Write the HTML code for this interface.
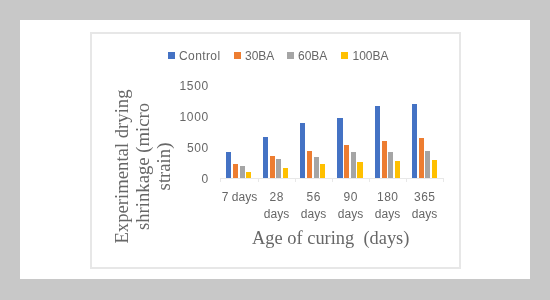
<!DOCTYPE html>
<html><head><meta charset="utf-8">
<style>
html,body{margin:0;padding:0;}
body{width:550px;height:300px;background:#c8c8c8;position:relative;overflow:hidden;font-family:"Liberation Sans",sans-serif;}
.panel{position:absolute;left:20px;top:20px;width:510px;height:259px;background:#fff;}
.frame{position:absolute;left:90px;top:32px;width:367px;height:233px;border:2px solid #e7e7e7;}
.wrap{position:absolute;left:0;top:0;width:550px;height:300px;filter:blur(0.4px);}
.abs{position:absolute;white-space:nowrap;}
.sq{position:absolute;top:52px;width:7px;height:7px;}
.lg{position:absolute;top:48.5px;font-size:12px;line-height:14px;color:#676767;}
.yl{position:absolute;right:341.3px;font-size:12px;line-height:14px;color:#676767;text-align:right;letter-spacing:0.6px;}
.bar{position:absolute;width:5.2px;}
.b{background:#4472c4;} .o{background:#ed7d31;} .g{background:#a5a5a5;} .y{background:#ffc000;}
.xl{position:absolute;font-size:12px;line-height:16.8px;color:#676767;text-align:center;width:40px;}
.xt{position:absolute;left:252.1px;top:227.6px;font-family:"Liberation Serif",serif;font-size:18.4px;line-height:20px;color:#676767;white-space:pre;}
.yt{position:absolute;font-family:"Liberation Serif",serif;font-size:18.7px;line-height:21px;color:#676767;text-align:center;width:200px;height:63px;left:42.4px;top:135.1px;transform:rotate(-90deg);}
.axis{position:absolute;left:220px;top:178px;width:223px;height:1px;background:#e8e8e8;}
.tick{position:absolute;top:178px;width:1px;height:4px;background:#e8e8e8;}
</style></head>
<body>
<div class="wrap">
<div class="panel"></div>
<div class="frame"></div>

<div class="sq b" style="left:168px"></div><div class="lg" style="left:179px;letter-spacing:0.4px">Control</div>
<div class="sq o" style="left:234px"></div><div class="lg" style="left:245px">30BA</div>
<div class="sq g" style="left:287px"></div><div class="lg" style="left:298px">60BA</div>
<div class="sq y" style="left:340.5px;width:7.5px"></div><div class="lg" style="left:352.5px">100BA</div>

<div class="yl" style="top:79px">1500</div>
<div class="yl" style="top:110px">1000</div>
<div class="yl" style="top:141px">500</div>
<div class="yl" style="top:172px">0</div>

<div class="axis"></div>
<div class="tick" style="left:220px"></div>
<div class="tick" style="left:258px"></div>
<div class="tick" style="left:295px"></div>
<div class="tick" style="left:332px"></div>
<div class="tick" style="left:369px"></div>
<div class="tick" style="left:406px"></div>
<div class="tick" style="left:443px"></div>
<div class="bar b" style="left:226.2px;top:152px;height:26.0px"></div>
<div class="bar o" style="left:232.9px;top:164.1px;height:13.9px"></div>
<div class="bar g" style="left:239.5px;top:166.4px;height:11.6px"></div>
<div class="bar y" style="left:246.2px;top:171.6px;height:6.4px"></div>
<div class="bar b" style="left:262.8px;top:136.5px;height:41.5px"></div>
<div class="bar o" style="left:269.5px;top:156px;height:22.0px"></div>
<div class="bar g" style="left:276.1px;top:158.7px;height:19.3px"></div>
<div class="bar y" style="left:282.8px;top:167.5px;height:10.5px"></div>
<div class="bar b" style="left:300.2px;top:123.4px;height:54.6px"></div>
<div class="bar o" style="left:306.9px;top:151.3px;height:26.7px"></div>
<div class="bar g" style="left:313.5px;top:156.7px;height:21.3px"></div>
<div class="bar y" style="left:320.2px;top:163.9px;height:14.1px"></div>
<div class="bar b" style="left:337.4px;top:118px;height:60.0px"></div>
<div class="bar o" style="left:344.1px;top:144.7px;height:33.3px"></div>
<div class="bar g" style="left:350.7px;top:151.9px;height:26.1px"></div>
<div class="bar y" style="left:357.4px;top:162px;height:16.0px"></div>
<div class="bar b" style="left:374.9px;top:105.5px;height:72.5px"></div>
<div class="bar o" style="left:381.6px;top:140.6px;height:37.4px"></div>
<div class="bar g" style="left:388.2px;top:152px;height:26.0px"></div>
<div class="bar y" style="left:394.9px;top:161px;height:17.0px"></div>
<div class="bar b" style="left:412.0px;top:104px;height:74.0px"></div>
<div class="bar o" style="left:418.7px;top:137.9px;height:40.1px"></div>
<div class="bar g" style="left:425.3px;top:150.5px;height:27.5px"></div>
<div class="bar y" style="left:432.0px;top:160.1px;height:17.9px"></div>

<div class="xl" style="left:219.5px;top:189px;width:40px">7 days</div>
<div class="xl" style="left:256.5px;top:189px"><span style="letter-spacing:0.4px;margin-right:-0.4px">28</span><br>days</div>
<div class="xl" style="left:293.5px;top:189px"><span style="letter-spacing:0.4px;margin-right:-0.4px">56</span><br>days</div>
<div class="xl" style="left:330.5px;top:189px"><span style="letter-spacing:0.4px;margin-right:-0.4px">90</span><br>days</div>
<div class="xl" style="left:367.5px;top:189px"><span style="letter-spacing:0.4px;margin-right:-0.4px">180</span><br>days</div>
<div class="xl" style="left:404.5px;top:189px"><span style="letter-spacing:0.4px;margin-right:-0.4px">365</span><br>days</div>

<div class="xt">Age of curing  (days)</div>
<div class="yt">Experimental drying<br>shrinkage (micro<br>strain)</div>
</div>
</body></html>
